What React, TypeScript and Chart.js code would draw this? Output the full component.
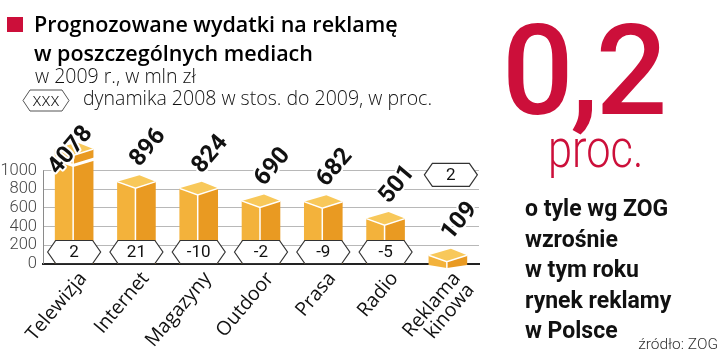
import React, { useEffect, useRef } from "react";
import { Chart, registerables } from "chart.js";

Chart.register(...registerables);

const categories: string[][] = [["Telewizja"], ["Internet"], ["Magazyny"], ["Outdoor"], ["Prasa"], ["Radio"], ["Reklama", "kinowa"]];
const spending = [4078, 896, 824, 690, 682, 501, 109];
const dynamics = [2, 21, -10, -2, -9, -5, 2];
const yTicks = [0, 200, 400, 600, 800, 1000];
const axisMax = 1250;

const RED = "#CC0F3A";
const ROT = (-50 * Math.PI) / 180;

function hexPath(ctx: CanvasRenderingContext2D, cx: number, cy: number, w: number, h: number) {
  const s = 8;
  ctx.beginPath();
  ctx.moveTo(cx - w / 2, cy);
  ctx.lineTo(cx - w / 2 + s, cy - h / 2);
  ctx.lineTo(cx + w / 2 - s, cy - h / 2);
  ctx.lineTo(cx + w / 2, cy);
  ctx.lineTo(cx + w / 2 - s, cy + h / 2);
  ctx.lineTo(cx - w / 2 + s, cy + h / 2);
  ctx.closePath();
}

const axisLinePlugin = {
  id: "axisLine",
  beforeDatasetsDraw(chart: any) {
    const { ctx, chartArea, scales } = chart;
    const ys = scales.y;
    ctx.save();
    ctx.strokeStyle = "#8a8a8a";
    ctx.lineWidth = 1;
    ctx.beginPath();
    ctx.moveTo(chartArea.left + 0.5, ys.getPixelForValue(yTicks[yTicks.length - 1]));
    ctx.lineTo(chartArea.left + 0.5, ys.getPixelForValue(0));
    ctx.stroke();
    ctx.restore();
  },
};

const bars3dPlugin = {
  id: "bars3d",
  afterDatasetsDraw(chart: any) {
    const { ctx, chartArea, scales } = chart;
    const ys = scales.y;
    const meta = chart.getDatasetMeta(0);
    const base = ys.getPixelForValue(0);
    ctx.save();
    meta.data.forEach((el: any, i: number) => {
      const v = spending[i];
      const x = el.x;
      const hw = el.width / 2;
      const broken = v > ys.max;
      const small = base - el.y < 30;
      const yv = broken ? chartArea.top + 0.5 : el.y;
      const t = yv + 1.5;
      const d = 6.5;
      const xf = x - 1;
      const xb = x + 3;
      const bs = small ? base + 1 : base;
      const bf = small ? base + 4 : base;
      ctx.fillStyle = "#F3B23B";
      ctx.beginPath();
      ctx.moveTo(x - hw, t);
      ctx.lineTo(xf, t + d);
      ctx.lineTo(xf, bf);
      ctx.lineTo(x - hw, bs);
      ctx.closePath();
      ctx.fill();
      ctx.fillStyle = "#E99A22";
      ctx.beginPath();
      ctx.moveTo(xf, t + d);
      ctx.lineTo(x + hw, t);
      ctx.lineTo(x + hw, bs);
      ctx.lineTo(xf, bf);
      ctx.closePath();
      ctx.fill();
      ctx.fillStyle = "#F8C85A";
      ctx.beginPath();
      ctx.moveTo(x - hw, t);
      ctx.lineTo(xb, t - d);
      ctx.lineTo(x + hw, t);
      ctx.lineTo(xf, t + d);
      ctx.closePath();
      ctx.fill();
      ctx.strokeStyle = "#ffffff";
      ctx.lineWidth = 1.5;
      ctx.beginPath();
      ctx.moveTo(x - hw, t);
      ctx.lineTo(xf, t + d);
      ctx.lineTo(x + hw, t);
      ctx.moveTo(xf, t + d);
      ctx.lineTo(xf, bf);
      ctx.stroke();
      if (broken) {
        ctx.lineWidth = 3;
        ctx.beginPath();
        ctx.moveTo(x - hw - 1, t + 10);
        ctx.lineTo(xf, t + d + 10);
        ctx.lineTo(x + hw + 1, t + 10);
        ctx.stroke();
      }
    });

    meta.data.forEach((el: any, i: number) => {
      const v = spending[i];
      const x = el.x;
      const broken = v > ys.max;
      let lx: number, ly: number;
      if (broken) {
        lx = x - 4;
        ly = chartArea.top + 3;
      } else {
        lx = x + 11;
        ly = el.y - 33;
      }
      ctx.save();
      ctx.translate(lx, ly);
      ctx.rotate(ROT);
      ctx.font = "700 24px Roboto";
      ctx.textAlign = "center";
      ctx.textBaseline = "middle";
      ctx.lineJoin = "round";
      ctx.strokeStyle = "#ffffff";
      ctx.lineWidth = 4;
      ctx.strokeText(String(v), 0, 1);
      ctx.fillStyle = "#111111";
      ctx.fillText(String(v), 0, 1);
      ctx.restore();

      const small = base - el.y < 30;
      const hx = small ? x + 3 : x;
      const hy = small ? ly - 46 : base - 12;
      hexPath(ctx, hx, hy, 53, 23);
      ctx.fillStyle = "#ffffff";
      ctx.fill();
      ctx.strokeStyle = "#333333";
      ctx.lineWidth = 1.2;
      ctx.stroke();
      ctx.fillStyle = "#111111";
      ctx.font = "400 17px Roboto";
      ctx.textAlign = "center";
      ctx.textBaseline = "middle";
      ctx.fillText(String(dynamics[i]), hx, hy + 1);
    });

    const xs = scales.x;
    categories.forEach((lines, i) => {
      const x = xs.getPixelForValue(i);
      lines.forEach((line, j) => {
        ctx.save();
        ctx.translate(x + 9 + j * 13.8, base + 11 + j * 11.6);
        ctx.rotate(ROT);
        ctx.font = "400 19.5px 'Open Sans'";
        ctx.textAlign = "right";
        ctx.textBaseline = "middle";
        ctx.fillStyle = "#111111";
        ctx.fillText(line, 0, 0);
        ctx.restore();
      });
    });
    ctx.restore();
  },
};

export default function App() {
  const ref = useRef<HTMLCanvasElement | null>(null);

  useEffect(() => {
    document.body.style.margin = "0";
    const canvas = ref.current;
    if (!canvas) return;
    const chart = new Chart(canvas, {
      type: "bar",
      data: {
        labels: categories,
        datasets: [
          {
            data: spending,
            backgroundColor: "rgba(0,0,0,0)",
            borderWidth: 0,
            barPercentage: 0.62,
            categoryPercentage: 1,
          },
        ],
      },
      options: {
        animation: false,
        responsive: false,
        devicePixelRatio: 1,
        layout: { padding: { top: 147, right: 241, left: 0, bottom: 0 } },
        plugins: { legend: { display: false }, tooltip: { enabled: false } },
        scales: {
          x: {
            grid: { display: false },
            border: { display: true, color: "#222222", width: 2 },
            ticks: { display: false },
            afterFit: (s: any) => {
              s.height = 96;
            },
          },
          y: {
            min: 0,
            max: axisMax,
            afterBuildTicks: (s: any) => {
              s.ticks = yTicks.map((v) => ({ value: v }));
            },
            afterFit: (s: any) => {
              s.width = 43;
            },
            grid: { color: "#b8b8b8", lineWidth: 1, drawTicks: false },
            border: { display: false },
            ticks: {
              padding: 6,
              color: "#444444",
              font: { family: "Roboto", size: 16.5, weight: "300" },
              callback: (v: any) => String(v),
            },
          },
        },
      },
      plugins: [axisLinePlugin, bars3dPlugin],
    });
    return () => chart.destroy();
  }, []);

  const abs = (o: React.CSSProperties): React.CSSProperties => ({ position: "absolute", whiteSpace: "nowrap", ...o });

  return (
    <div style={{ position: "fixed", left: 0, top: 0, width: 720, height: 360, background: "#fff", overflow: "hidden", fontFamily: "Roboto, sans-serif", color: "#111" }}>
      <canvas ref={ref} width={720} height={360} style={{ position: "absolute", left: 0, top: 0, width: 720, height: 360 }} />
      <div style={abs({ left: 7, top: 17, width: 16, height: 15, background: RED })} />
      <div style={abs({ left: 34, top: 9, fontFamily: "'Open Sans'", fontWeight: 600, fontSize: 21.5, lineHeight: "29px", color: "#000" })}>
        Prognozowane wydatki na reklamę
        <br />
        w poszczególnych mediach
      </div>
      <div style={abs({ left: 35, top: 66, fontFamily: "'Open Sans'", fontWeight: 300, fontSize: 19.5, lineHeight: "19.5px" })}>w 2009 r., w mln zł</div>
      <svg style={abs({ left: 22, top: 89, overflow: "visible" })} width={48} height={23}>
        <polygon points="1,11.5 8,1 40,1 47,11.5 40,22 8,22" fill="#fff" stroke="#555" strokeWidth={1} />
        <text x={24} y={17} textAnchor="middle" fontFamily="'Open Sans'" fontWeight={300} fontSize={18} fill="#111">xxx</text>
      </svg>
      <div style={abs({ left: 83, top: 88, fontFamily: "'Open Sans'", fontWeight: 300, fontSize: 19.5, lineHeight: "19.5px" })}>dynamika 2008 w stos. do 2009, w proc.</div>
      <div style={abs({ left: 502, top: 8, fontWeight: 500, fontSize: 126, lineHeight: "126px", letterSpacing: -3, color: RED })}>0,2</div>
      <div style={abs({ left: 548, top: 124, fontWeight: 300, fontSize: 51, lineHeight: "51px", color: RED, transform: "scaleX(0.85)", transformOrigin: "left top" })}>proc.</div>
      <div style={abs({ left: 525, top: 194, fontWeight: 700, fontSize: 23, lineHeight: "30.5px", color: "#111" })}>
        o tyle wg ZOG
        <br />
        wzrośnie
        <br />
        w tym roku
        <br />
        rynek reklamy
        <br />
        w Polsce
      </div>
      <div style={abs({ right: 2, top: 337, fontWeight: 300, fontSize: 15.5, lineHeight: "15.5px", color: "#333" })}>źródło: ZOG</div>
    </div>
  );
}
